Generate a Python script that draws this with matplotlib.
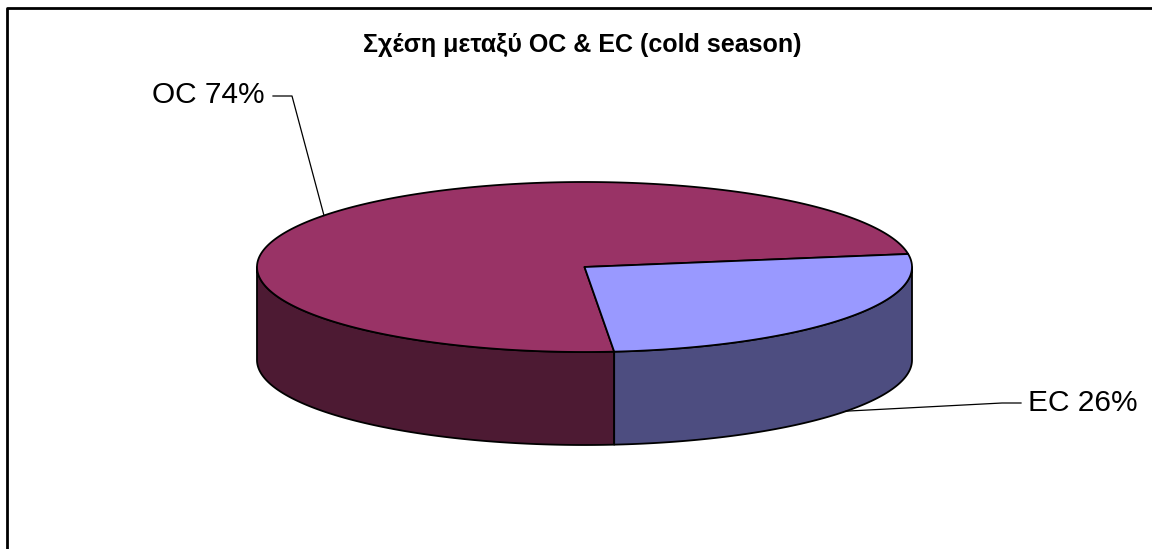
"""
3-D style pie chart: OC vs EC share, cold season
"""

import numpy as np
import matplotlib.pyplot as plt
from matplotlib.patches import Polygon

#---------------------------------------------------------------------------------------------------
# Input Parameters
#---------------------------------------------------------------------------------------------------

title = 'Σχέση μεταξύ OC & EC (cold season)'
labels = ['OC', 'EC']
shares = [74, 26]

top_colors = ['#993366', '#9999ff']
side_colors = ['#4d1a33', '#4d4d80']

# Pie geometry in pixel units (y grows downwards)
cx, cy = 584.5, 267.0
rx, ry = 327.5, 85.0
depth = 93.0
start_angle = 8.8

# Label positions and leader anchor angles
label_pos = [(152, 95), (1028, 403)]
label_ha = ['left', 'left']
leader_angle = [142.7, -37.0]
leader_on_bottom = [False, True]
leader_knee = [(292, 96), (1002, 403)]
leader_end = [(273, 96), (1021, 403)]

fontname = 'Liberation Sans'


#---------------------------------------------------------------------------------------------------
# Main Program
#---------------------------------------------------------------------------------------------------

def rim(theta, dz=0.0):
    t = np.radians(theta)
    return cx + rx * np.cos(t), cy - ry * np.sin(t) + dz

fig = plt.figure(figsize=(11.52, 5.49), dpi=100)
ax = fig.add_axes([0, 0, 1, 1])
ax.set_xlim(0, 1152)
ax.set_ylim(549, 0)
ax.axis('off')

# Chart frame (runs off the right and bottom edges)
ax.plot([7, 7, 1160], [560, 8, 8], color='black', lw=2, solid_capstyle='butt', zorder=1)

# Wedge angle ranges
total = sum(shares)
bounds = []
a0 = start_angle
for s in shares:
    a1 = a0 + 360.0 * s / total
    bounds.append((a0, a1))
    a0 = a1

# Side walls: only the front half (180-360 deg) is visible
for (t0, t1), col in zip(bounds, side_colors):
    for lo, hi in [(180, 360), (540, 720)]:
        s0, s1 = max(t0, lo), min(t1, hi)
        if s1 <= s0:
            continue
        th = np.linspace(s0, s1, 200)
        xt, yt = rim(th)
        xb, yb = rim(th[::-1], depth)
        pts = np.column_stack([np.concatenate([xt, xb]), np.concatenate([yt, yb])])
        ax.add_patch(Polygon(pts, closed=True, facecolor=col, edgecolor='black', lw=1.3,
                             joinstyle='round', zorder=2))

# Top faces
for (t0, t1), col in zip(bounds, top_colors):
    th = np.linspace(t0, t1, 400)
    xt, yt = rim(th)
    pts = np.column_stack([np.concatenate([[cx], xt]), np.concatenate([[cy], yt])])
    ax.add_patch(Polygon(pts, closed=True, facecolor=col, edgecolor='black', lw=1.3,
                         joinstyle='round', zorder=3))

# Labels with leader lines
for i, (lab, val) in enumerate(zip(labels, shares)):
    dz = depth if leader_on_bottom[i] else 0.0
    x0, y0 = rim(leader_angle[i], dz)
    kx, ky = leader_knee[i]
    ex, ey = leader_end[i]
    ax.plot([x0, kx, ex], [y0, ky, ey], color='black', lw=0.9, zorder=4)
    ax.text(label_pos[i][0], label_pos[i][1], f'{lab} {val}%', ha=label_ha[i], va='center',
            fontsize=21.5, fontname=fontname, zorder=5)

ax.text(582, 45, title, ha='center', va='center', fontsize=18, fontweight='bold',
        fontname=fontname)

plt.savefig('out.png', dpi=100)
plt.close()
